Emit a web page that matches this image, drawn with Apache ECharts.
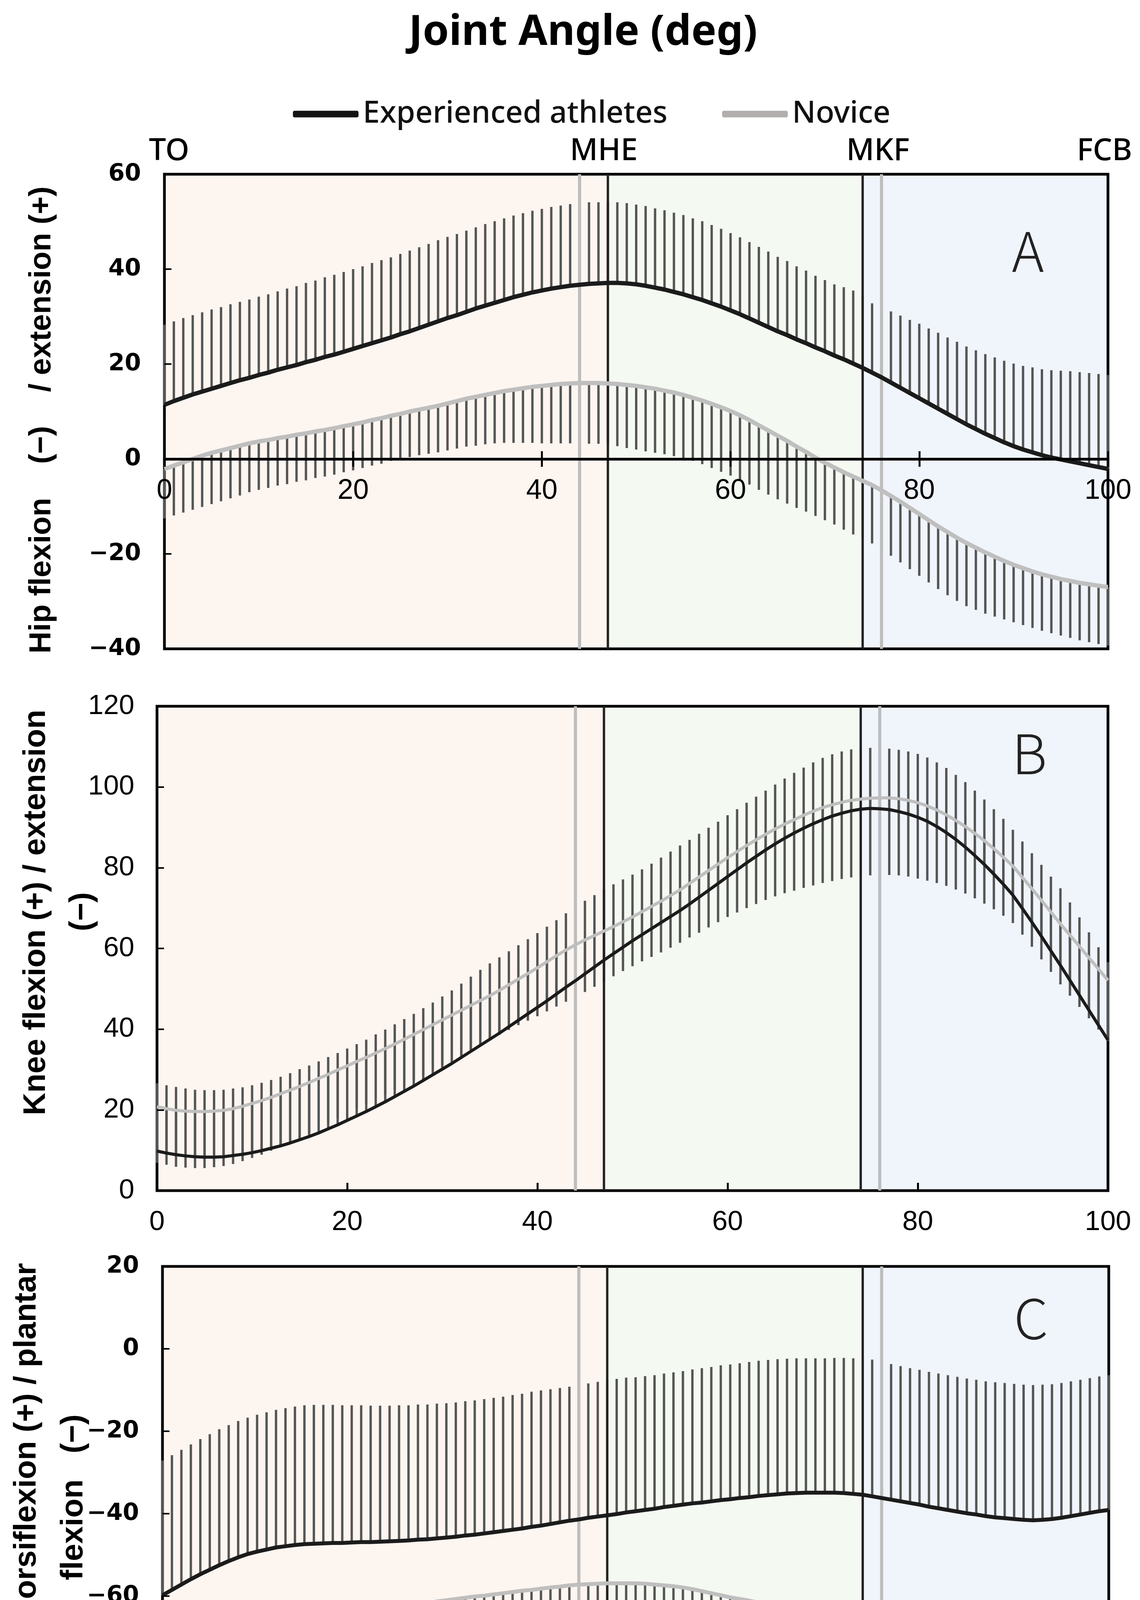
<!DOCTYPE html>
<html>
<head>
<meta charset="utf-8">
<script src="https://cdn.jsdelivr.net/npm/echarts@6/dist/echarts.min.js"></script>
<style>
html,body{margin:0;padding:0;background:#fff;}
#chart{width:2919px;height:4815px;}
</style>
</head>
<body>
<div id="chart"></div>
<script>
// ---------------- DATA ----------------
const seriesNames = ['Experienced athletes', 'Novice'];
const eventNames = ['TO', 'MHE', 'MKF', 'FCB'];
const expPhaseLines = [47, 74];
const novPhaseLines = [44, 76];
const phaseBands = [[0, 47], [47, 74], [74, 100]];

const hipExpMean = [11.4,12.2,12.9,13.6,14.2,14.8,15.4,16.0,16.6,17.1,
17.7,18.2,18.8,19.3,19.8,20.4,20.9,21.5,22.0,22.6,
23.2,23.8,24.4,25.0,25.6,26.3,26.9,27.6,28.3,29.0,
29.7,30.3,31.0,31.7,32.3,32.9,33.5,34.1,34.6,35.1,
35.5,35.9,36.2,36.5,36.7,36.9,37.0,37.1,37.1,37.0,
36.8,36.5,36.1,35.7,35.2,34.7,34.1,33.5,32.8,32.1,
31.3,30.5,29.6,28.7,27.8,26.9,26.1,25.2,24.4,23.5,
22.7,21.8,21.0,20.1,19.2,18.2,17.2,16.1,15.0,13.9,
12.8,11.7,10.6,9.5,8.4,7.3,6.3,5.3,4.4,3.5,
2.7,2.0,1.4,0.8,0.3,-0.1,-0.5,-0.9,-1.3,-1.7,
-2.1];
const hipExpSD = [16.9,16.8,16.8,16.7,16.7,16.7,16.6,16.6,16.5,16.5,
16.5,16.5,16.5,16.6,16.6,16.7,16.7,16.8,16.8,16.8,
16.8,16.8,16.9,16.9,16.9,16.9,17.0,17.0,17.0,17.1,
17.1,17.1,17.1,17.1,17.2,17.2,17.2,17.2,17.2,17.2,
17.2,17.2,17.2,17.2,17.2,17.2,17.1,17.0,17.0,16.9,
16.8,16.8,16.7,16.7,16.7,16.7,16.6,16.6,16.5,16.4,
16.3,16.2,16.1,16.0,15.9,15.7,15.6,15.4,15.3,15.1,
15.0,15.0,15.2,15.4,15.2,14.6,14.8,15.0,15.2,15.4,
15.7,15.8,16.0,16.1,16.3,16.4,16.6,16.8,17.0,17.2,
17.4,17.6,17.9,18.1,18.4,18.7,19.0,19.2,19.4,19.6,
19.8];
const hipNovMean = [-2.1,-1.4,-0.7,0.0,0.7,1.3,1.8,2.3,2.8,3.3,
3.7,4.0,4.4,4.7,5.1,5.4,5.8,6.1,6.5,6.9,
7.3,7.7,8.2,8.6,9.1,9.5,10.0,10.4,10.8,11.2,
11.7,12.2,12.7,13.1,13.5,13.9,14.3,14.6,14.9,15.2,
15.4,15.6,15.8,15.9,16.0,16.0,16.0,15.9,15.8,15.6,
15.4,15.1,14.8,14.4,14.0,13.5,12.9,12.3,11.6,10.9,
10.1,9.2,8.2,7.1,6.0,4.9,3.8,2.6,1.5,0.3,
-0.8,-1.8,-2.8,-3.7,-4.6,-5.5,-6.6,-7.8,-9.0,-10.3,
-11.6,-12.9,-14.2,-15.4,-16.6,-17.7,-18.7,-19.7,-20.6,-21.5,
-22.3,-23.0,-23.7,-24.3,-24.8,-25.3,-25.7,-26.1,-26.4,-26.7,
-27.0];
const hipNovSD = [10.4,10.5,10.6,10.7,10.8,10.8,10.7,10.6,10.5,10.3,
10.2,10.1,10.0,10.0,9.9,9.9,9.8,9.8,9.8,9.7,
9.7,9.6,9.6,9.6,9.5,9.5,9.6,9.6,9.7,9.8,
9.9,10.0,10.1,10.3,10.4,10.6,10.9,11.2,11.5,11.8,
12.1,12.3,12.5,12.6,12.8,12.8,12.8,12.9,13.1,13.3,
13.4,13.5,13.5,13.4,13.4,13.3,13.3,13.4,13.5,13.6,
13.6,13.6,13.6,13.6,13.5,13.4,13.2,12.9,12.6,12.3,
12.1,12.0,12.1,12.2,12.2,12.3,12.4,12.6,12.8,12.9,
13.0,13.1,13.2,13.3,13.3,13.3,13.1,12.9,12.6,12.3,
12.1,12.0,11.9,11.9,11.9,11.9,12.0,12.1,12.2,12.3,
12.3];

const kneeExpMean = [9.8,9.3,8.9,8.6,8.4,8.3,8.3,8.4,8.7,9.0,
9.4,9.9,10.5,11.1,11.8,12.6,13.4,14.3,15.3,16.3,
17.4,18.5,19.6,20.8,22.0,23.3,24.6,25.9,27.3,28.7,
30.1,31.5,33.0,34.5,36.0,37.5,39.0,40.6,42.2,43.8,
45.4,47.0,48.7,50.4,52.0,53.7,55.4,57.1,58.7,60.3,
61.9,63.4,64.9,66.4,67.9,69.4,71.0,72.7,74.4,76.1,
77.8,79.5,81.2,82.8,84.4,85.9,87.3,88.6,89.8,90.9,
91.9,92.8,93.5,94.1,94.5,94.7,94.6,94.4,93.9,93.3,
92.5,91.5,90.2,88.7,87.0,85.1,83.0,80.8,78.4,75.9,
73.2,69.9,66.5,63.0,59.4,55.8,52.1,48.4,44.7,41.0,
37.3];
const kneeExpSD = [16.8,16.8,16.8,16.7,16.6,16.6,16.6,16.6,16.6,16.6,
16.7,16.8,16.9,17.1,17.3,17.5,17.6,17.7,17.8,17.8,
17.8,17.8,17.8,17.9,17.9,17.9,17.9,17.9,17.9,17.9,
18.0,18.1,18.3,18.5,18.7,18.8,18.8,18.7,18.6,18.5,
18.4,18.4,18.3,18.3,18.3,18.1,17.8,17.5,17.2,16.8,
16.4,16.2,16.1,16.1,16.1,16.1,15.9,15.7,15.5,15.3,
15.2,15.0,14.9,14.8,14.7,14.7,14.8,14.9,15.0,15.2,
15.3,15.3,15.3,15.2,15.1,15.0,15.0,15.1,15.3,15.5,
15.7,15.8,15.9,16.0,16.0,16.1,16.1,16.1,16.1,16.2,
16.2,16.6,17.1,17.7,18.4,19.1,19.3,19.3,19.3,19.3,
19.3];
const kneeNovMean = [20.8,20.3,19.9,19.7,19.6,19.6,19.7,19.9,20.3,20.9,
21.6,22.3,23.1,24.0,24.9,25.8,26.8,27.8,28.8,29.9,
30.9,32.0,33.0,34.1,35.2,36.3,37.5,38.7,39.9,41.1,
42.3,43.5,44.7,45.9,47.1,48.3,49.6,51.0,52.4,53.8,
55.2,56.7,58.2,59.6,60.9,62.1,63.2,64.3,65.4,66.6,
67.8,69.1,70.4,71.7,73.1,74.5,76.1,77.7,79.3,80.9,
82.5,84.0,85.5,86.9,88.3,89.6,90.8,91.9,93.0,94.0,
94.9,95.6,96.2,96.7,97.0,97.2,97.3,97.3,97.1,96.7,
96.1,95.3,94.3,93.1,91.7,90.2,88.5,86.7,84.7,82.6,
80.4,77.6,74.8,71.9,69.0,66.1,63.3,60.5,57.7,54.9,
52.1];
const kneeNovSD = [13.9,13.9,14.0,14.0,14.0,14.0,13.9,13.8,13.7,13.6,
13.5,13.4,13.2,13.1,12.9,12.7,12.5,12.3,12.1,11.9,
11.7,11.6,11.5,11.4,11.3,11.2,11.2,11.2,11.2,11.2,
11.2,11.1,11.0,11.0,10.9,10.9,11.0,11.2,11.4,11.7,
12.0,12.3,12.6,12.8,13.0,12.9,12.7,12.5,12.3,12.2,
12.2,12.3,12.5,12.7,12.9,13.1,13.4,13.8,14.1,14.4,
14.7,15.1,15.5,15.9,16.3,16.7,17.1,17.6,18.0,18.4,
18.7,18.9,19.0,19.1,19.1,19.1,19.1,19.1,19.0,18.9,
18.8,18.5,18.1,17.6,17.1,16.6,16.1,15.6,15.0,14.5,
14.1,14.2,14.4,14.6,14.8,15.0,15.0,15.0,15.0,15.0,
15.0];

const ankleExpMean = [-59.8,-58.5,-57.2,-55.9,-54.7,-53.6,-52.5,-51.5,-50.6,-49.8,
-49.2,-48.7,-48.2,-47.9,-47.6,-47.4,-47.3,-47.2,-47.1,-47.1,
-47.0,-46.9,-46.9,-46.8,-46.7,-46.6,-46.5,-46.3,-46.2,-46.0,
-45.8,-45.6,-45.3,-45.1,-44.8,-44.5,-44.2,-43.9,-43.6,-43.2,
-42.9,-42.5,-42.1,-41.7,-41.4,-41.0,-40.7,-40.4,-40.1,-39.7,
-39.4,-39.1,-38.8,-38.4,-38.1,-37.8,-37.5,-37.3,-37.0,-36.7,
-36.5,-36.2,-36.0,-35.7,-35.5,-35.3,-35.1,-35.0,-34.9,-34.9,
-34.9,-34.9,-35.0,-35.2,-35.4,-35.8,-36.2,-36.6,-37.0,-37.4,
-37.8,-38.3,-38.7,-39.1,-39.5,-39.9,-40.2,-40.6,-40.9,-41.1,
-41.3,-41.5,-41.6,-41.5,-41.3,-41.0,-40.6,-40.2,-39.8,-39.4,
-39.1];
const ankleExpSD = [32.7,32.7,32.7,32.7,32.8,32.9,33.0,33.0,33.1,33.1,
33.2,33.3,33.4,33.5,33.6,33.7,33.7,33.6,33.5,33.4,
33.3,33.2,33.1,33.0,32.9,32.9,32.8,32.8,32.7,32.7,
32.6,32.6,32.6,32.6,32.6,32.6,32.6,32.7,32.7,32.8,
32.8,32.7,32.6,32.5,32.4,32.6,32.7,32.8,32.8,32.7,
32.5,32.5,32.4,32.4,32.4,32.4,32.5,32.6,32.6,32.7,
32.7,32.7,32.8,32.8,32.8,32.8,32.7,32.7,32.6,32.6,
32.6,32.7,32.8,32.9,33.0,33.2,33.1,32.9,32.8,32.7,
32.7,32.7,32.7,32.7,32.7,32.7,32.7,32.7,32.8,32.8,
32.8,32.8,32.8,32.8,32.7,32.7,32.7,32.7,32.7,32.7,
32.7];
const ankleNovMean = [-75.9,-74.8,-73.8,-72.9,-72.0,-71.1,-70.2,-69.4,-68.6,-67.9,
-67.3,-66.7,-66.2,-65.9,-65.6,-65.3,-65.0,-64.7,-64.4,-64.2,
-63.9,-63.7,-63.4,-63.2,-62.9,-62.7,-62.4,-62.0,-61.7,-61.3,
-61.0,-60.7,-60.4,-60.1,-59.9,-59.6,-59.3,-59.0,-58.7,-58.5,
-58.2,-57.9,-57.7,-57.4,-57.2,-57.1,-57.0,-56.9,-56.9,-56.9,
-56.9,-57.0,-57.2,-57.4,-57.6,-57.9,-58.3,-58.8,-59.3,-59.8,
-60.3,-60.7,-61.1,-61.6,-62.0,-62.4,-62.8,-63.2,-63.7,-64.1,
-64.5,-64.9,-65.4,-65.8,-66.2,-66.6,-67.0,-67.4,-67.8,-68.2,
-68.6,-69.0,-69.4,-69.8,-70.1,-70.5,-70.8,-71.1,-71.4,-71.7,
-71.9,-72.1,-72.2,-72.2,-72.0,-71.6,-70.9,-70.0,-69.0,-67.8,
-66.5];
const ankleNovSD = [10.4,10.4,10.5,10.6,10.6,10.7,10.9,11.2,11.5,11.8,
12.0,12.1,12.2,12.3,12.3,12.4,12.5,12.6,12.7,12.7,
12.8,12.9,13.1,13.2,13.4,13.5,13.6,13.7,13.9,14.0,
14.1,14.2,14.3,14.3,14.4,14.5,14.6,14.7,14.8,14.8,
14.9,15.0,15.0,15.1,15.2,15.5,15.8,16.1,16.3,16.4,
16.4,16.4,16.4,16.4,16.4,16.4,16.6,16.9,17.1,17.4,
17.6,17.6,17.6,17.6,17.6,17.6,17.5,17.4,17.3,17.2,
17.1,17.0,16.9,16.8,16.8,16.8,16.8,16.7,16.7,16.6,
16.6,16.4,16.2,16.1,15.9,15.7,15.5,15.3,15.1,14.8,
14.6,14.4,14.2,14.0,13.9,13.9,14.1,14.4,14.8,15.2,
15.6];

// ---------------- STYLE / LAYOUT ----------------
const C_EXP = '#1b1b1b', C_NOV = '#bfbfbf', C_BAR = '#555555';
const bandColors = ['#fdf5f0', '#f4f9f1', '#f0f4fb'];

const panels = [
  { grid:{left:421, top:446, width:2416, height:1215}, ymin:-40, ymax:60,
    expMean:hipExpMean, expSD:hipExpSD, novMean:hipNovMean, novSD:hipNovSD,
    lw:11, xFont:['Liberation Sans',72,'normal'], yFont:['DejaVu Sans',60,'bold'], xMargin:46, yMargin:60,
    axisAtZero:true, letter:'A', letterPos:[2632,643] },
  { grid:{left:402, top:1808, width:2435, height:1240}, ymin:0, ymax:120,
    expMean:kneeExpMean, expSD:kneeExpSD, novMean:kneeNovMean, novSD:kneeNovSD,
    lw:8, xFont:['Liberation Sans',71,'normal'], yFont:['Liberation Sans',71,'normal'], xMargin:46, yMargin:58,
    axisAtZero:false, letter:'B', letterPos:[2636,1929] },
  { grid:{left:416, top:3242, width:2423, height:1266}, ymin:-100, ymax:20,
    expMean:ankleExpMean, expSD:ankleExpSD, novMean:ankleNovMean, novSD:ankleNovSD,
    lw:10, xFont:['DejaVu Sans',60,'bold'], yFont:['DejaVu Sans',60,'bold'], xMargin:46, yMargin:60,
    axisAtZero:false, letter:'C', letterPos:[2640,3375] }
];

const minusFmt = v => String(v).replace('-', '\u2212');

const option = {
  backgroundColor:'#ffffff',
  animation:false,
  grid:[], xAxis:[], yAxis:[], series:[],
  legend:{
    left:745, top:242, itemWidth:168, itemHeight:17, itemGap:140,
    selectedMode:false,
    textStyle:{fontFamily:'Noto Sans', fontWeight:500, fontSize:78, color:'#111', padding:[0,0,0,6], lineHeight:90},
    data:[
      {name:seriesNames[0], icon:'roundRect', itemStyle:{color:'#141414'}},
      {name:seriesNames[1], icon:'roundRect', itemStyle:{color:'#b2aeae'}}
    ]
  },
  graphic:[]
};

panels.forEach((p, i) => {
  option.grid.push(Object.assign({show:true, z:2, borderColor:'#000', borderWidth:7, backgroundColor:'transparent', containLabel:false}, p.grid));
  // offset that places panel A's x axis on the zero line
  const zeroOffset = p.axisAtZero ? -(p.grid.height * (0 - p.ymin) / (p.ymax - p.ymin)) : 0;
  option.xAxis.push({
    gridIndex:i, type:'value', min:0, max:100, interval:20, position:'bottom', offset:zeroOffset, z:10,
    axisLine:{show:p.axisAtZero, onZero:false, lineStyle:{color:'#000', width:7}},
    axisTick:{show:true, inside:!p.axisAtZero, length:20, lineStyle:{color:'#000', width:5}},
    axisLabel:{margin:p.xMargin, fontFamily:p.xFont[0], fontSize:p.xFont[1], fontWeight:p.xFont[2], color:'#000', formatter:minusFmt},
    splitLine:{show:false}
  });
  option.yAxis.push({
    gridIndex:i, type:'value', min:p.ymin, max:p.ymax, interval:20, z:10,
    axisLine:{show:false, onZero:false},
    axisTick:{show:true, inside:true, length:18, lineStyle:{color:'#000', width:4}},
    axisLabel:{margin:p.yMargin, fontFamily:p.yFont[0], fontSize:p.yFont[1], fontWeight:p.yFont[2], color:'#000', formatter:minusFmt},
    splitLine:{show:false}
  });

  // phase backgrounds
  option.series.push({
    type:'custom', xAxisIndex:i, yAxisIndex:i, silent:true, z:1,
    data:phaseBands.map((b, k) => [b[0], b[1], k]),
    renderItem:(params, api) => {
      const a = api.coord([api.value(0), p.ymax]);
      const b = api.coord([api.value(1), p.ymin]);
      return {type:'rect', shape:{x:a[0], y:a[1], width:b[0]-a[0], height:b[1]-a[1]},
              style:{fill:bandColors[api.value(2)]}};
    }
  });

  // error bars: experienced upward, novice downward
  const mkBars = (mean, sd, dir) => ({
    type:'custom', xAxisIndex:i, yAxisIndex:i, silent:true, z:3,
    data:mean.map((m, k) => [k, m, sd[k]]),
    renderItem:(params, api) => {
      const x = api.value(0), m = api.value(1), s = api.value(2);
      const a = api.coord([x, m]);
      const b = api.coord([x, m + dir * s]);
      return {type:'line', shape:{x1:a[0], y1:a[1], x2:b[0], y2:b[1]},
              style:{stroke:C_BAR, lineWidth:6}};
    }
  });
  option.series.push(mkBars(p.expMean, p.expSD, 1));
  option.series.push(mkBars(p.novMean, p.novSD, -1));

  // phase event lines
  const evData = novPhaseLines.map(v => [v, 0]).concat(expPhaseLines.map(v => [v, 1]));
  option.series.push({
    type:'custom', xAxisIndex:i, yAxisIndex:i, silent:true, z:4,
    data:evData,
    renderItem:(params, api) => {
      const a = api.coord([api.value(0), p.ymax]);
      const b = api.coord([api.value(0), p.ymin]);
      const isExp = api.value(1) === 1;
      return {type:'line', shape:{x1:a[0], y1:a[1], x2:b[0], y2:b[1]},
              style:{stroke:isExp ? '#222' : '#bdbdbd', lineWidth:isExp ? 6 : 8}};
    }
  });

  // mean curves
  option.series.push({
    name:seriesNames[1], type:'line', xAxisIndex:i, yAxisIndex:i, z:5,
    showSymbol:false, symbol:'none', smooth:false,
    data:p.novMean.map((m, k) => [k, m]),
    lineStyle:{color:C_NOV, width:p.lw}, itemStyle:{color:'#b2aeae'}
  });
  option.series.push({
    name:seriesNames[0], type:'line', xAxisIndex:i, yAxisIndex:i, z:6,
    showSymbol:false, symbol:'none', smooth:false,
    data:p.expMean.map((m, k) => [k, m]),
    lineStyle:{color:C_EXP, width:p.lw}, itemStyle:{color:'#141414'}
  });

  // panel letter
  option.graphic.push({type:'text', x:p.letterPos[0], y:p.letterPos[1], z:10,
    style:{text:p.letter, fontFamily:'Noto Sans CJK SC', fontWeight:300, fontSize:140, fill:'#222',
           align:'center', verticalAlign:'middle', textAlign:'center', textVerticalAlign:'middle'}});
});

// extra axis in panel A: upward half of the crossing ticks on the zero line
option.xAxis.push({
  gridIndex:0, type:'value', min:0, max:100, interval:20, position:'bottom', z:10,
  offset:-(panels[0].grid.height * (0 - panels[0].ymin) / (panels[0].ymax - panels[0].ymin)),
  axisLine:{show:false, onZero:false},
  axisTick:{show:true, inside:true, length:20, lineStyle:{color:'#000', width:5}},
  axisLabel:{show:false}, splitLine:{show:false}
});

// title and texts
const T = (text, x, y, size, weight, family, rot) => ({
  type:'text', x:x, y:y, rotation:rot || 0, z:10,
  style:{text:text, fontSize:size, fontWeight:weight, fontFamily:family, fill:'#000',
         align:'center', verticalAlign:'middle', textAlign:'center', textVerticalAlign:'middle'}
});
option.graphic.push(T('Joint Angle (deg)', 1493, 84, 108, 'bold', 'Noto Sans'));
const evX = [433, 1546, 2248, 2828];
eventNames.forEach((n, k) => option.graphic.push(T(n, evX[k], 388, 78, 500, 'Noto Sans')));

// y-axis names
const R = Math.PI / 2;
option.graphic.push(T('Hip flexion    (\u2212)    / extension (+)', 107, 1075, 78, 'bold', 'Liberation Sans', R));
option.graphic.push(T('Knee flexion (+) / extension', 93, 2336, 80, 'bold', 'Liberation Sans', R));
option.graphic.push(T('(\u2212)', 211, 2334, 80, 'bold', 'Liberation Sans', R));
option.graphic.push(T('Ankle dorsiflexion (+) / plantar', 69, 3808, 80, 'bold', 'Liberation Sans', R));
option.graphic.push(T('flexion   (\u2212)', 189, 3833, 80, 'bold', 'Liberation Sans', R));
// x-axis name
option.graphic.push(T('Normalized Time (%)', 1550, 4740, 74, 'bold', 'Noto Sans'));

const chart = echarts.init(document.getElementById('chart'), null, {renderer:'canvas', width:2919, height:4815});
chart.setOption(option);
</script>
</body>
</html>
